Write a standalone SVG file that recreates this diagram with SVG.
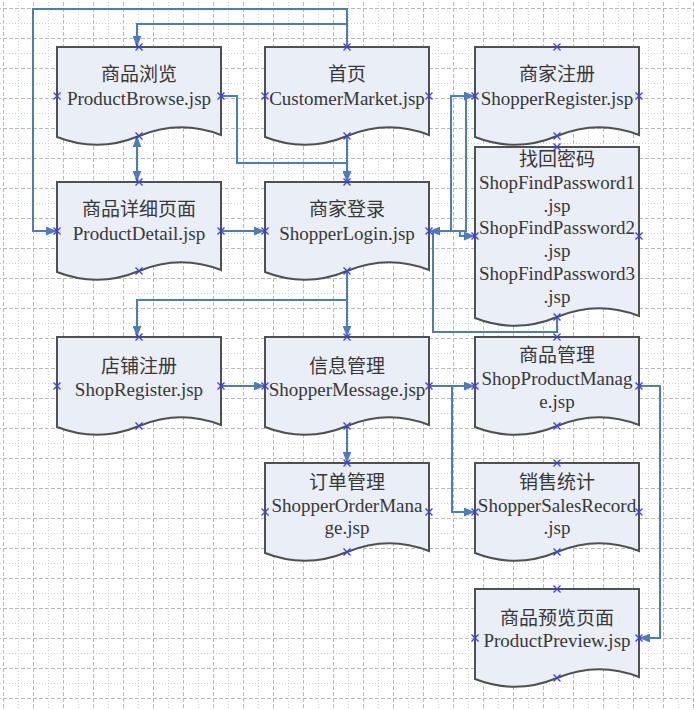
<svg xmlns="http://www.w3.org/2000/svg" xmlns:xlink="http://www.w3.org/1999/xlink" width="694" height="710" viewBox="0 0 694 710">
<style>
.doc{fill:#e9eef7;stroke:#505050;stroke-width:2}
.t{font-family:"Liberation Serif","Noto Sans CJK SC",serif;font-size:19px;fill:#383838;text-anchor:middle}
.c{fill:none;stroke:#4a7ebb;stroke-width:2}
.a{marker-end:url(#arr)}
.aa{marker-start:url(#arr);marker-end:url(#arr)}
.cp{stroke:#3a3aff;stroke-width:1.3;fill:none}
</style>
<defs>
<pattern id="grid" x="3" y="8" width="30" height="30" patternUnits="userSpaceOnUse">
<line x1="0.5" y1="0" x2="0.5" y2="30" stroke="#b9b9b9" stroke-width="1" stroke-dasharray="4 2"/>
<line x1="0" y1="0.5" x2="30" y2="0.5" stroke="#b9b9b9" stroke-width="1" stroke-dasharray="4 2"/>
<line x1="15.5" y1="0" x2="15.5" y2="30" stroke="#cfcfcf" stroke-width="1" stroke-dasharray="1 2"/>
<line x1="0" y1="15.5" x2="30" y2="15.5" stroke="#cfcfcf" stroke-width="1" stroke-dasharray="1 2"/>
</pattern>
<marker id="arr" viewBox="0 0 10 8" refX="10" refY="4" markerWidth="11" markerHeight="9" markerUnits="userSpaceOnUse" orient="auto-start-reverse">
<path d="M0,0 L10,4 L0,8 z" fill="#4a7ebb"/>
</marker>
<path id="x" class="cp" d="M-3.5,-3.5 L3.5,3.5 M-3.5,3.5 L3.5,-3.5"/>
</defs>
<rect width="694" height="710" fill="#ffffff"/>
<rect width="694" height="710" fill="url(#grid)"/>

<g id="connectors">
<path class="c a" d="M347,47 V24 H137 V47"/>
<path class="c a" d="M347,47 V9 H33 V231 H57"/>
<path class="c a" d="M221,96 H237 V163 H347 V182"/>
<path class="c a" d="M347,136 V182"/>
<path class="c aa" d="M137,136 V182"/>
<path class="c a" d="M221,231 H265"/>
<path class="c a" d="M429,231 H451 V96 H475"/>
<path class="c a" d="M475,96 H466 V231 H429"/>
<path class="c a" d="M429,231 H460 V236 H475"/>
<path class="c" d="M557,317 V332 H433 V231"/>
<path class="c a" d="M347,271 V300 H137 V337"/>
<path class="c a" d="M347,300 V337"/>
<path class="c a" d="M221,386 H265"/>
<path class="c a" d="M429,386 H475"/>
<path class="c a" d="M452,386 V512 H475"/>
<path class="c a" d="M347,426 V463"/>
<path class="c a" d="M639,386 H660 V638 H639"/>
</g>

<g id="ProductBrowse">
<path class="doc" d="M57,47 H221 V135 Q180,119 139,136 Q98,153 57,137 Z"/>
<text class="t" x="139" y="81">商品浏览</text>
<text class="t" x="139" y="104.5">ProductBrowse.jsp</text>
<use href="#x" x="139" y="47"/><use href="#x" x="139" y="136"/><use href="#x" x="57" y="96"/><use href="#x" x="221" y="96"/>
</g>

<g id="CustomerMarket">
<path class="doc" d="M265,47 H429 V135 Q388,119 347,136 Q306,153 265,137 Z"/>
<text class="t" x="347" y="81">首页</text>
<text class="t" x="347" y="104.5">CustomerMarket.jsp</text>
<use href="#x" x="347" y="47"/><use href="#x" x="347" y="136"/><use href="#x" x="265" y="96"/><use href="#x" x="429" y="96"/>
</g>

<g id="ShopperRegister">
<path class="doc" d="M475,47 H639 V135 Q598,119 557,136 Q516,153 475,137 Z"/>
<text class="t" x="557" y="81">商家注册</text>
<text class="t" x="557" y="104.5">ShopperRegister.jsp</text>
<use href="#x" x="557" y="47"/><use href="#x" x="557" y="136"/><use href="#x" x="475" y="96"/><use href="#x" x="639" y="96"/>
</g>

<g id="ProductDetail">
<path class="doc" d="M57,182 H221 V270 Q180,254 139,271 Q98,288 57,272 Z"/>
<text class="t" x="139" y="216">商品详细页面</text>
<text class="t" x="139" y="239.5">ProductDetail.jsp</text>
<use href="#x" x="139" y="182"/><use href="#x" x="139" y="271"/><use href="#x" x="57" y="231"/><use href="#x" x="221" y="231"/>
</g>

<g id="ShopperLogin">
<path class="doc" d="M265,182 H429 V270 Q388,254 347,271 Q306,288 265,272 Z"/>
<text class="t" x="347" y="216">商家登录</text>
<text class="t" x="347" y="239.5">ShopperLogin.jsp</text>
<use href="#x" x="347" y="182"/><use href="#x" x="347" y="271"/><use href="#x" x="265" y="231"/><use href="#x" x="429" y="231"/>
</g>

<g id="ShopFindPassword">
<path class="doc" d="M475,147 H639 V316 Q598,300 557,317 Q516,334 475,318 Z"/>
<text class="t" x="557" y="166">找回密码</text>
<text class="t" x="557" y="188.8">ShopFindPassword1</text>
<text class="t" x="557" y="211.6">.jsp</text>
<text class="t" x="557" y="234.4">ShopFindPassword2</text>
<text class="t" x="557" y="257.2">.jsp</text>
<text class="t" x="557" y="280">ShopFindPassword3</text>
<text class="t" x="557" y="302.8">.jsp</text>
<use href="#x" x="557" y="147"/><use href="#x" x="557" y="317"/><use href="#x" x="475" y="236"/><use href="#x" x="639" y="236"/>
</g>

<g id="ShopRegister">
<path class="doc" d="M57,337 H221 V425 Q180,409 139,426 Q98,443 57,427 Z"/>
<text class="t" x="139" y="373">店铺注册</text>
<text class="t" x="139" y="396">ShopRegister.jsp</text>
<use href="#x" x="139" y="337"/><use href="#x" x="139" y="426"/><use href="#x" x="57" y="386"/><use href="#x" x="221" y="386"/>
</g>

<g id="ShopperMessage">
<path class="doc" d="M265,337 H429 V425 Q388,409 347,426 Q306,443 265,427 Z"/>
<text class="t" x="347" y="373">信息管理</text>
<text class="t" x="347" y="396">ShopperMessage.jsp</text>
<use href="#x" x="347" y="337"/><use href="#x" x="347" y="426"/><use href="#x" x="265" y="386"/><use href="#x" x="429" y="386"/>
</g>

<g id="ShopProductManage">
<path class="doc" d="M475,337 H639 V425 Q598,409 557,426 Q516,443 475,427 Z"/>
<text class="t" x="557" y="362">商品管理</text>
<text class="t" x="557" y="385">ShopProductManag</text>
<text class="t" x="557" y="408">e.jsp</text>
<use href="#x" x="557" y="337"/><use href="#x" x="557" y="426"/><use href="#x" x="475" y="386"/><use href="#x" x="639" y="386"/>
</g>

<g id="ShopperOrderManage">
<path class="doc" d="M265,463 H429 V551 Q388,535 347,552 Q306,569 265,553 Z"/>
<text class="t" x="347" y="489">订单管理</text>
<text class="t" x="347" y="511.5">ShopperOrderMana</text>
<text class="t" x="347" y="534">ge.jsp</text>
<use href="#x" x="347" y="463"/><use href="#x" x="347" y="552"/><use href="#x" x="265" y="512"/><use href="#x" x="429" y="512"/>
</g>

<g id="ShopperSalesRecord">
<path class="doc" d="M475,463 H639 V551 Q598,535 557,552 Q516,569 475,553 Z"/>
<text class="t" x="557" y="489">销售统计</text>
<text class="t" x="557" y="511.5">ShopperSalesRecord</text>
<text class="t" x="557" y="534">.jsp</text>
<use href="#x" x="557" y="463"/><use href="#x" x="557" y="552"/><use href="#x" x="475" y="512"/><use href="#x" x="639" y="512"/>
</g>

<g id="ProductPreview">
<path class="doc" d="M475,589 H639 V677 Q598,661 557,678 Q516,695 475,679 Z"/>
<text class="t" x="557" y="625">商品预览页面</text>
<text class="t" x="557" y="647">ProductPreview.jsp</text>
<use href="#x" x="557" y="589"/><use href="#x" x="557" y="678"/><use href="#x" x="475" y="638"/><use href="#x" x="639" y="638"/>
</g>
</svg>
